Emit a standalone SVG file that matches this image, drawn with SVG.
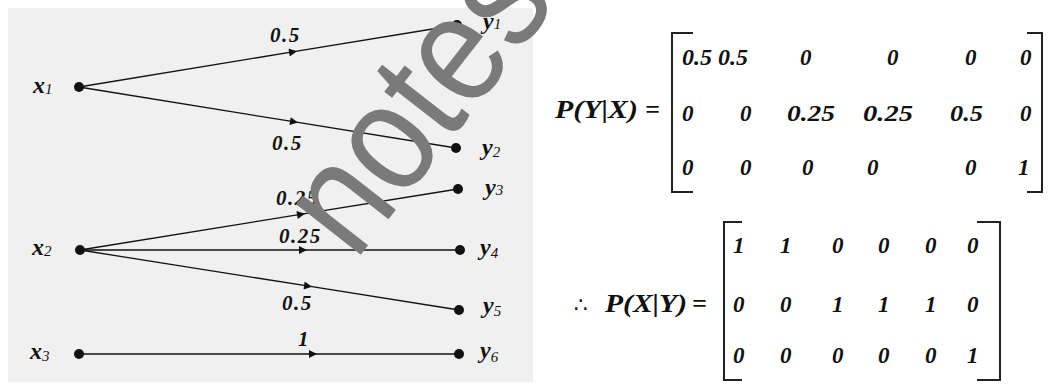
<svg xmlns="http://www.w3.org/2000/svg" width="1053" height="385" viewBox="0 0 1053 385">
<style>
.bi{font-family:"Liberation Serif","Times New Roman",serif;font-weight:bold;font-style:italic;fill:#111}
.lbl{font-size:21px;letter-spacing:1.5px}
.var{font-size:24px}
.sub{font-size:15px;font-weight:normal}
.m{font-size:23px}
.edge{fill:none;stroke:#111;stroke-width:1.3;marker-mid:url(#arr)}
.dot{fill:#111}
.br{fill:none;stroke:#222;stroke-width:2}
.wm{font-family:"Liberation Sans",Arial,sans-serif;font-size:155px;fill:#7a7a7a}
</style>
<defs>
<marker id="arr" viewBox="0 0 10 10" refX="10" refY="5" markerWidth="12" markerHeight="8" markerUnits="userSpaceOnUse" orient="auto"><path d="M0,0 L10,5 L0,10 z" fill="#111"/></marker>
</defs>
<rect x="0" y="0" width="1053" height="385" fill="#ffffff"/>
<rect x="8" y="8" width="525" height="374" fill="#f0f0f0"/>

<g id="connectors">
<path class="edge" d="M79,87 L297,51.2 L457,25"/>
<path class="edge" d="M79,87 L298,122.4 L456,148"/>
<path class="edge" d="M80,250 L305,213.7 L458,189"/>
<path class="edge" d="M80,250 L307,250 L460,250"/>
<path class="edge" d="M80,250 L312,286.7 L459,310"/>
<path class="edge" d="M79,354 L317,354 L459,354"/>
<text class="bi lbl" x="270" y="42">0.5</text>
<text class="bi lbl" x="272" y="150">0.5</text>
<text class="bi lbl" x="276" y="205">0.25</text>
<text class="bi lbl" x="279" y="243">0.25</text>
<text class="bi lbl" x="282" y="310">0.5</text>
<text class="bi lbl" x="298" y="346">1</text>
</g>

<g id="x1"><circle class="dot" cx="79" cy="87" r="5"/><text class="bi var" x="33" y="93">x<tspan class="sub" dy="1">1</tspan></text></g>
<g id="x2"><circle class="dot" cx="80" cy="250" r="5"/><text class="bi var" x="32" y="255">x<tspan class="sub" dy="1">2</tspan></text></g>
<g id="x3"><circle class="dot" cx="79" cy="354" r="5"/><text class="bi var" x="30" y="359">x<tspan class="sub" dy="2">3</tspan></text></g>

<g id="y1"><circle class="dot" cx="457" cy="25" r="5"/><text class="bi var" x="483" y="29">y<tspan class="sub" dy="0">1</tspan></text></g>
<g id="y2"><circle class="dot" cx="456" cy="148" r="5"/><text class="bi var" x="482" y="155">y<tspan class="sub" dy="2">2</tspan></text></g>
<g id="y3"><circle class="dot" cx="458" cy="189" r="5"/><text class="bi var" x="485" y="195">y<tspan class="sub" dy="0">3</tspan></text></g>
<g id="y4"><circle class="dot" cx="460" cy="250" r="5"/><text class="bi var" x="480" y="255">y<tspan class="sub" dy="3">4</tspan></text></g>
<g id="y5"><circle class="dot" cx="459" cy="310" r="5"/><text class="bi var" x="483" y="313">y<tspan class="sub" dy="3">5</tspan></text></g>
<g id="y6"><circle class="dot" cx="459" cy="354" r="5"/><text class="bi var" x="480" y="358">y<tspan class="sub" dy="4">6</tspan></text></g>

<g id="matrix1">
<text class="bi" x="555" y="118" font-size="26" textLength="83" lengthAdjust="spacingAndGlyphs">P(Y|X)</text>
<text class="bi" x="645" y="118" font-size="26">=</text>
<path class="br" d="M693,33 H672 V192 H693"/>
<path class="br" d="M1027,33 H1042 V192 H1027"/>
<text class="bi m" x="682" y="65" textLength="30" lengthAdjust="spacingAndGlyphs">0.5</text>
<text class="bi m" x="718" y="65" textLength="30" lengthAdjust="spacingAndGlyphs">0.5</text>
<text class="bi m" x="800" y="65">0</text>
<text class="bi m" x="887" y="65">0</text>
<text class="bi m" x="965" y="65">0</text>
<text class="bi m" x="1020" y="65">0</text>
<text class="bi m" x="682" y="121">0</text>
<text class="bi m" x="740" y="121">0</text>
<text class="bi m" x="787" y="121" textLength="48" lengthAdjust="spacingAndGlyphs">0.25</text>
<text class="bi m" x="863" y="121" textLength="50" lengthAdjust="spacingAndGlyphs">0.25</text>
<text class="bi m" x="950" y="121" textLength="33" lengthAdjust="spacingAndGlyphs">0.5</text>
<text class="bi m" x="1020" y="121">0</text>
<text class="bi m" x="682" y="175">0</text>
<text class="bi m" x="740" y="175">0</text>
<text class="bi m" x="802" y="175">0</text>
<text class="bi m" x="867" y="175">0</text>
<text class="bi m" x="965" y="175">0</text>
<text class="bi m" x="1018" y="175">1</text>
</g>

<g id="matrix2">
<text x="574" y="312" font-family="DejaVu Sans,sans-serif" font-size="21" fill="#111">∴</text>
<text class="bi" x="605" y="312" font-size="26" textLength="82" lengthAdjust="spacingAndGlyphs">P(X|Y)</text>
<text class="bi" x="692" y="312" font-size="26">=</text>
<path class="br" d="M742,222 H724 V380 H742"/>
<path class="br" d="M977,222 H1000 V380 H977"/>
<text class="bi m" x="733" y="253">1</text>
<text class="bi m" x="780" y="253">1</text>
<text class="bi m" x="832" y="253">0</text>
<text class="bi m" x="878" y="253">0</text>
<text class="bi m" x="925" y="253">0</text>
<text class="bi m" x="967" y="253">0</text>
<text class="bi m" x="733" y="312">0</text>
<text class="bi m" x="780" y="312">0</text>
<text class="bi m" x="832" y="312">1</text>
<text class="bi m" x="878" y="312">1</text>
<text class="bi m" x="925" y="312">1</text>
<text class="bi m" x="967" y="312">0</text>
<text class="bi m" x="733" y="363">0</text>
<text class="bi m" x="780" y="363">0</text>
<text class="bi m" x="832" y="363">0</text>
<text class="bi m" x="878" y="363">0</text>
<text class="bi m" x="925" y="363">0</text>
<text class="bi m" x="967" y="363">1</text>
</g>

<g id="watermark">
<text class="wm" transform="translate(355,262) rotate(-52)" textLength="330" lengthAdjust="spacingAndGlyphs">notes</text>
</g>
</svg>
